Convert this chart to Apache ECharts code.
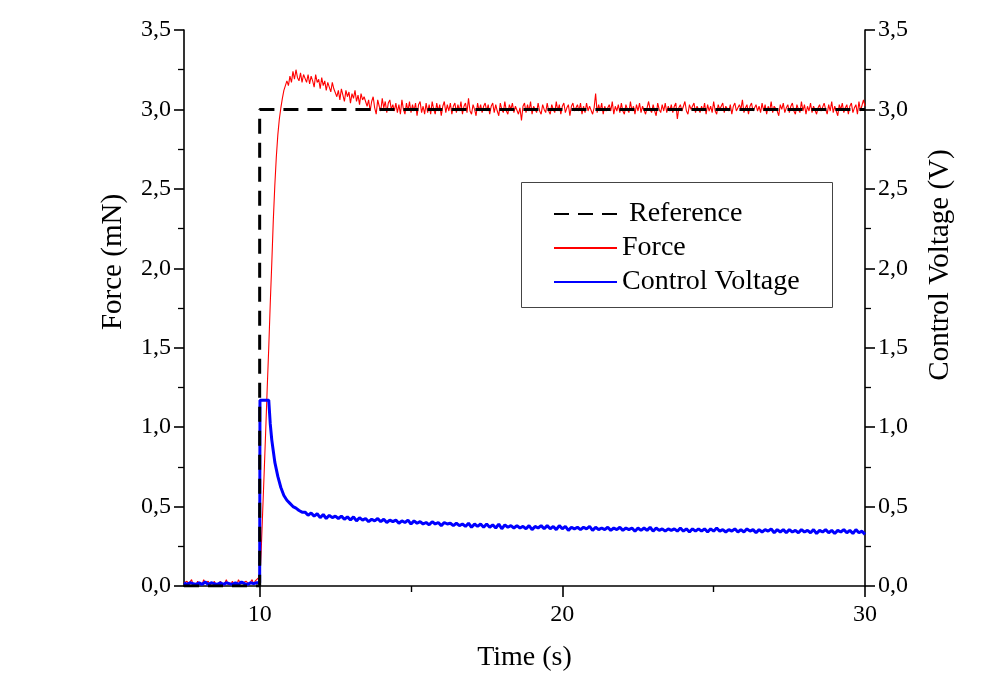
<!DOCTYPE html>
<html>
<head>
<meta charset="utf-8">
<script src="https://cdn.jsdelivr.net/npm/echarts@6/dist/echarts.min.js"></script>
<style>html,body{margin:0;padding:0;background:#fff;}#c{width:994px;height:675px;}</style>
</head>
<body>
<div id="c"></div>
<script>
// ---- DATA ----
const xTicks = [10, 20, 30];
const xMinorTicks = [15, 25];
const seriesNames = ['Reference', 'Force', 'Control Voltage'];

// Reference step (time, value)
const refTime = [7.5, 10, 10, 30];
const refValue = [0, 0, 3, 3];

// Force (mN): before the step, sampled every 0.05 s from 7.5 s
const forcePreStart = 7.5, forcePreStep = 0.05;
const forcePre = [
0.02,0.01,0.03,0.01,0.02,0.04,0.01,0.02,0.00,0.03,
0.01,0.02,0.01,0.04,0.02,0.01,0.03,0.01,0.02,0.00,
0.03,0.01,0.02,0.01,0.03,0.02,0.00,0.02,0.04,0.01,
0.02,0.01,0.03,0.01,0.02,0.01,0.04,0.02,0.01,0.02,
0.01,0.03,0.02,0.01,0.02,0.04,0.01,0.03,0.02,0.05];
// Force rise and overshoot (time, value)
const forceRise = [
[10.0,0.02],[10.05,0.22],[10.1,0.47],[10.15,0.72],[10.2,0.98],[10.25,1.25],[10.3,1.50],
[10.35,1.78],[10.4,2.03],[10.45,2.30],[10.5,2.52],[10.55,2.70],[10.6,2.84],[10.65,2.94],
[10.7,3.01],[10.75,3.07],[10.8,3.12],[10.85,3.13],[10.9,3.18],[10.95,3.15],[11.0,3.21],
[11.05,3.17],[11.1,3.24],[11.15,3.19],[11.2,3.25],[11.25,3.20],[11.3,3.18],[11.35,3.23],
[11.4,3.17],[11.45,3.22]];
// Force plateau, sampled every 0.05 s from 11.5 s
const forcePlatStart = 11.5, forcePlatStep = 0.05;
const forcePlat = [
3.23,3.17,3.22,3.16,3.21,3.18,3.14,3.22,3.17,3.19,3.13,3.20,3.15,3.18,3.12,3.17,3.14,3.11,3.17,3.13,
3.14,3.08,3.12,3.06,3.13,3.09,3.05,3.12,3.08,3.11,3.04,3.10,3.07,3.12,3.05,3.09,3.03,3.10,3.06,3.08,
3.08,3.02,3.06,2.99,3.05,3.08,3.01,2.97,3.06,3.02,2.99,3.07,3.01,3.05,2.98,3.04,3.06,3.00,3.03,2.99,
3.04,2.98,3.03,2.97,3.06,3.00,2.97,3.04,2.99,3.05,2.98,3.03,2.99,3.04,2.96,3.03,3.05,2.98,3.02,2.97,
3.04,2.98,3.03,2.97,3.05,3.00,2.97,3.04,2.99,3.03,2.96,3.02,3.05,2.98,3.03,2.99,3.04,2.97,3.02,3.04,
2.98,3.03,2.99,3.05,2.97,3.02,3.04,2.98,3.07,2.99,2.97,3.03,3.00,2.96,3.04,2.99,3.03,2.98,3.02,3.04,
2.99,3.03,2.97,3.02,3.04,2.98,3.03,2.99,2.96,3.04,3.00,2.98,3.05,2.99,2.97,3.03,3.00,3.04,2.98,3.02,
3.03,2.97,3.01,2.93,3.02,3.04,2.98,3.03,2.99,3.05,2.97,3.02,3.03,2.98,3.04,2.99,2.97,3.03,3.00,2.98,
3.04,2.99,2.97,3.03,3.00,2.98,3.05,2.99,3.03,2.97,3.02,3.04,2.98,3.01,3.03,2.96,3.02,3.04,2.99,2.98,
3.03,2.99,3.04,2.97,3.02,2.98,3.04,2.99,3.02,3.03,2.97,3.01,3.10,2.98,3.03,2.99,3.04,2.97,3.02,2.99,
2.98,3.03,2.99,3.05,2.97,3.02,2.99,3.03,2.98,3.04,2.99,2.97,3.03,3.00,2.98,3.05,2.99,3.02,2.97,3.03,
2.99,3.04,2.98,3.02,3.03,2.97,3.01,3.05,3.00,2.98,3.03,2.99,2.96,3.04,3.00,2.98,3.03,2.99,3.04,2.98,
3.02,2.99,3.03,2.98,3.02,3.04,2.94,3.01,3.03,2.99,2.98,3.05,2.99,2.97,3.03,3.00,2.99,3.04,2.98,3.02,
3.03,2.98,3.02,2.99,3.04,2.97,3.03,2.99,3.02,2.98,3.05,2.99,2.97,3.03,3.00,2.99,3.04,2.98,3.02,3.03,
2.99,3.03,2.97,3.02,3.04,2.99,2.98,3.03,3.00,3.06,2.98,3.01,3.03,2.97,3.02,3.04,2.99,2.98,3.03,2.99,
3.02,2.98,3.04,2.99,3.03,2.97,3.02,2.99,3.05,2.98,3.02,3.03,2.99,2.96,3.03,3.00,3.04,2.98,3.01,3.03,
2.98,3.02,3.04,2.99,2.97,3.03,3.00,2.98,3.05,2.99,3.03,2.97,3.02,2.99,3.04,2.98,3.02,3.03,2.97,3.01,
3.03,2.99,2.98,3.04,3.00,2.97,3.03,2.99,3.05,2.98,3.02,2.99,2.96,3.03,3.00,3.04,2.98,3.01,3.03,2.97,
3.02,3.04,2.98,3.01,3.03,2.97,3.05,2.99,2.98,3.06,3.02];

// Control voltage (V): before the step, sampled every 0.1 s from 7.5 s
const voltPreStart = 7.5, voltPreStep = 0.1;
const voltPre = [
0.02,0.01,0.02,0.015,0.01,0.02,0.01,0.025,0.01,0.02,0.015,0.01,0.02,
0.01,0.02,0.015,0.01,0.02,0.01,0.025,0.015,0.01,0.02,0.015,0.02];
// Control voltage jump and decay (time, value)
const voltRise = [
[10.0,0.02],[10.01,1.17],[10.3,1.17],[10.35,1.02],[10.4,0.92],[10.45,0.85],[10.5,0.78],
[10.6,0.69],[10.7,0.62],[10.8,0.57],[10.9,0.54],[11.0,0.52],[11.1,0.50],[11.2,0.49],
[11.3,0.475],[11.4,0.465]];
// Control voltage plateau, sampled every 0.1 s from 11.5 s
const voltPlatStart = 11.5, voltPlatStep = 0.1;
const voltPlat = [
0.465,0.445,0.46,0.44,0.455,0.43,0.45,0.425,0.445,0.43,
0.44,0.425,0.44,0.42,0.435,0.415,0.435,0.41,0.43,0.415,
0.425,0.405,0.42,0.41,0.425,0.405,0.42,0.40,0.415,0.405,
0.415,0.395,0.41,0.40,0.415,0.39,0.41,0.395,0.405,0.39,
0.40,0.385,0.405,0.39,0.40,0.38,0.40,0.39,0.395,0.38,
0.395,0.38,0.39,0.375,0.395,0.37,0.39,0.375,0.39,0.37,
0.39,0.37,0.385,0.365,0.39,0.36,0.385,0.37,0.38,0.365,
0.38,0.365,0.375,0.36,0.38,0.355,0.375,0.365,0.38,0.36,
0.38,0.36,0.375,0.355,0.38,0.36,0.375,0.35,0.37,0.36,
0.37,0.355,0.37,0.36,0.375,0.35,0.37,0.355,0.365,0.355,
0.37,0.35,0.365,0.355,0.37,0.35,0.365,0.355,0.365,0.345,
0.365,0.35,0.365,0.35,0.37,0.345,0.365,0.35,0.36,0.345,
0.36,0.35,0.36,0.345,0.365,0.345,0.36,0.34,0.36,0.345,
0.36,0.345,0.36,0.34,0.36,0.345,0.365,0.345,0.355,0.34,
0.355,0.345,0.36,0.34,0.355,0.34,0.36,0.345,0.355,0.335,
0.355,0.34,0.355,0.345,0.36,0.335,0.355,0.34,0.355,0.335,
0.355,0.34,0.35,0.335,0.355,0.34,0.35,0.335,0.355,0.33,
0.35,0.34,0.355,0.335,0.35,0.33,0.35,0.34,0.355,0.335,
0.35,0.33,0.355,0.335,0.345,0.325];

// ---- BUILD ----
function sampled(start, step, vals) {
  return vals.map((v, i) => [+(start + i * step).toFixed(3), v]);
}
const forceData = sampled(forcePreStart, forcePreStep, forcePre)
  .concat(forceRise, sampled(forcePlatStart, forcePlatStep, forcePlat));
const voltData = sampled(voltPreStart, voltPreStep, voltPre)
  .concat(voltRise, sampled(voltPlatStart, voltPlatStep, voltPlat));
const refData = refTime.map((t, i) => [t, refValue[i]]);

const FONT = "'Liberation Serif', 'Times New Roman', serif";
const comma = v => v.toFixed(1).replace('.', ',');

const chart = echarts.init(document.getElementById('c'), null, {renderer: 'canvas'});
const yCommon = {
  type: 'value', min: 0, max: 3.5, interval: 0.5,
  axisLine: {show: true, lineStyle: {color: '#000', width: 1.6}},
  axisTick: {show: true, inside: false, length: 10, lineStyle: {color: '#000', width: 1.6}},
  minorTick: {show: true, splitNumber: 2, length: 6, lineStyle: {color: '#000', width: 1.3}},
  splitLine: {show: false},
  axisLabel: {formatter: comma, color: '#000', fontFamily: FONT, fontSize: 24, margin: 13}
};
chart.setOption({
  animation: false,
  backgroundColor: '#fff',
  grid: {left: 184, right: 129, top: 30, bottom: 89, containLabel: false, outerBoundsMode: 'none'},
  xAxis: [{
    type: 'value', min: 7.5, max: 30, position: 'bottom',
    name: 'Time (s)', nameLocation: 'middle', nameGap: 58,
    nameTextStyle: {color: '#000', fontFamily: FONT, fontSize: 28},
    axisLine: {show: true, onZero: false, lineStyle: {color: '#000', width: 1.6}},
    axisTick: {show: true, inside: false, length: 11, customValues: xTicks, lineStyle: {color: '#000', width: 1.6}},
    axisLabel: {customValues: xTicks, margin: 17, color: '#000', fontFamily: FONT, fontSize: 24},
    splitLine: {show: false}
  }, {
    type: 'value', min: 7.5, max: 30, position: 'bottom', gridIndex: 0,
    axisLine: {show: false, onZero: false},
    axisTick: {show: true, inside: false, length: 6, customValues: xMinorTicks, lineStyle: {color: '#000', width: 1.4}},
    axisLabel: {show: false},
    splitLine: {show: false}
  }],
  yAxis: [
    Object.assign({}, yCommon, {position: 'left'}),
    Object.assign({}, yCommon, {position: 'right'})
  ],
  legend: {
    data: seriesNames, orient: 'vertical', left: 553, top: 199, padding: 0,
    itemWidth: 63, itemHeight: 14, itemGap: 4,
    itemStyle: {opacity: 0},
    formatter: name => (name === 'Reference' ? '\u00a0' + name : name),
    textStyle: {color: '#000', fontFamily: FONT, fontSize: 28, lineHeight: 30}
  },
  graphic: [
    {type: 'rect', shape: {x: 521.5, y: 182.5, width: 311, height: 125}, style: {fill: 'none', stroke: '#444', lineWidth: 1}, z: 1},
    {type: 'text', x: 113, y: 262, rotation: Math.PI / 2,
     style: {text: 'Force (mN)', fill: '#000', font: "29px " + FONT, textAlign: 'center', textVerticalAlign: 'middle'}},
    {type: 'text', x: 940, y: 265, rotation: Math.PI / 2,
     style: {text: 'Control Voltage (V)', fill: '#000', font: "29px " + FONT, textAlign: 'center', textVerticalAlign: 'middle'}}
  ],
  series: [
    {name: 'Force', type: 'line', data: forceData, yAxisIndex: 0, xAxisIndex: 0, showSymbol: false, symbol: 'none',
     sampling: null, lineStyle: {color: '#ff0000', width: 1.1}, itemStyle: {color: '#ff0000'}, z: 2},
    {name: 'Control Voltage', type: 'line', data: voltData, yAxisIndex: 1, xAxisIndex: 0, showSymbol: false, symbol: 'none',
     lineStyle: {color: '#0000ff', width: 3}, itemStyle: {color: '#0000ff'}, z: 3},
    {name: 'Reference', type: 'line', data: refData, yAxisIndex: 0, xAxisIndex: 0, showSymbol: false, symbol: 'none',
     lineStyle: {color: '#000', width: 3, type: [15, 9]}, itemStyle: {color: '#000'}, z: 4}
  ]
});
</script>
</body>
</html>
